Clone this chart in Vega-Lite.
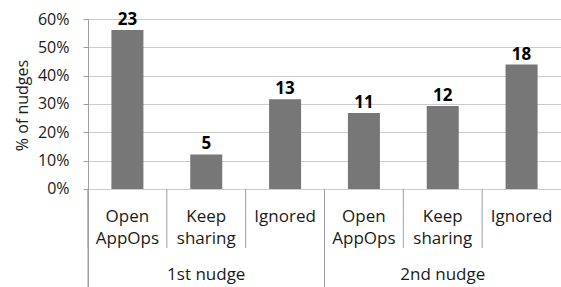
{
  "$schema": "https://vega.github.io/schema/vega-lite/v6.json",
  "autosize": "none",
  "padding": {"left": 88, "top": 19, "right": 0, "bottom": 0},
  "width": 473,
  "height": 268,
  "background": "white",
  "config": {"view": {"stroke": null}, "font": "Open Sans"},
  "data": {
    "values": [
      {"bar": "1st nudge: Open AppOps", "nudge": "1st nudge", "option": "Open AppOps", "count": 23, "pct": 0.561},
      {"bar": "1st nudge: Keep sharing", "nudge": "1st nudge", "option": "Keep sharing", "count": 5, "pct": 0.122},
      {"bar": "1st nudge: Ignored", "nudge": "1st nudge", "option": "Ignored", "count": 13, "pct": 0.317},
      {"bar": "2nd nudge: Open AppOps", "nudge": "2nd nudge", "option": "Open AppOps", "count": 11, "pct": 0.268},
      {"bar": "2nd nudge: Keep sharing", "nudge": "2nd nudge", "option": "Keep sharing", "count": 12, "pct": 0.293},
      {"bar": "2nd nudge: Ignored", "nudge": "2nd nudge", "option": "Ignored", "count": 18, "pct": 0.439}
    ]
  },
  "encoding": {
    "x": {"field": "bar", "type": "nominal", "sort": null, "axis": null,
          "scale": {"type": "band", "paddingInner": 0, "paddingOuter": 0}}
  },
  "layer": [
    {
      "mark": {"type": "bar", "color": "#777777", "width": {"band": 0.406}},
      "encoding": {
        "y": {"field": "pct", "type": "quantitative",
              "scale": {"domain": [-0.3459, 0.6], "nice": false, "zero": false},
              "axis": {
                "values": [0, 0.05, 0.1, 0.15, 0.2, 0.25, 0.3, 0.35, 0.4, 0.45, 0.5, 0.55, 0.6],
                "format": ".0%",
                "labelExpr": "(round(datum.value*100) % 10 == 0) ? datum.label : ''",
                "title": "% of nudges",
                "titleFont": "Open Sans", "titleFontSize": 16, "titleFontWeight": "normal", "titleColor": "#1a1a1a",
                "titleX": -66, "titleY": 86, "titleAlign": "center", "titleBaseline": "middle", "titleAngle": -90,
                "labelFont": "Open Sans", "labelFontSize": 16, "labelColor": "#1a1a1a", "labelPadding": 14,
                "domainColor": "#a0a0a0", "tickColor": "#a0a0a0", "tickSize": 5,
                "tickOpacity": {"condition": {"test": "round(datum.value*100) % 10 == 0", "value": 1}, "value": 0},
                "grid": true, "gridColor": "#cccccc"
              }},
        "y2": {"datum": 0}
      }
    },
    {
      "mark": {"type": "text", "baseline": "alphabetic", "dy": -5, "fontSize": 17, "fontWeight": "bold", "color": "#000000", "font": "Open Sans"},
      "encoding": {
        "y": {"field": "pct", "type": "quantitative"},
        "text": {"field": "count", "type": "quantitative"}
      }
    },
    {
      "mark": {"type": "rule", "color": "#a0a0a0"},
      "encoding": {"y": {"datum": 0}}
    },
    {
      "mark": {"type": "rule", "color": "#a0a0a0"},
      "encoding": {
        "x": {"field": "bar", "type": "nominal", "sort": null, "bandPosition": 0},
        "y": {"datum": 0},
        "y2": {"datum": -0.2082}
      }
    },
    {
      "transform": [{"filter": "datum.option == 'Open AppOps'"}],
      "mark": {"type": "rule", "color": "#a0a0a0"},
      "encoding": {
        "x": {"field": "bar", "type": "nominal", "sort": null, "bandPosition": 0},
        "y": {"datum": 0},
        "y2": {"datum": -0.3459}
      }
    },
    {
      "mark": {"type": "text", "baseline": "alphabetic", "lineBreak": " ", "lineHeight": 22, "fontSize": 17, "color": "#1a1a1a", "font": "Open Sans"},
      "encoding": {
        "y": {"datum": -0.1165},
        "text": {"field": "option", "type": "nominal"}
      }
    },
    {
      "transform": [{"filter": "datum.option == 'Keep sharing'"}],
      "mark": {"type": "text", "baseline": "alphabetic", "fontSize": 17, "color": "#1a1a1a", "font": "Open Sans"},
      "encoding": {
        "y": {"datum": -0.3225},
        "text": {"field": "nudge", "type": "nominal"}
      }
    }
  ]
}
